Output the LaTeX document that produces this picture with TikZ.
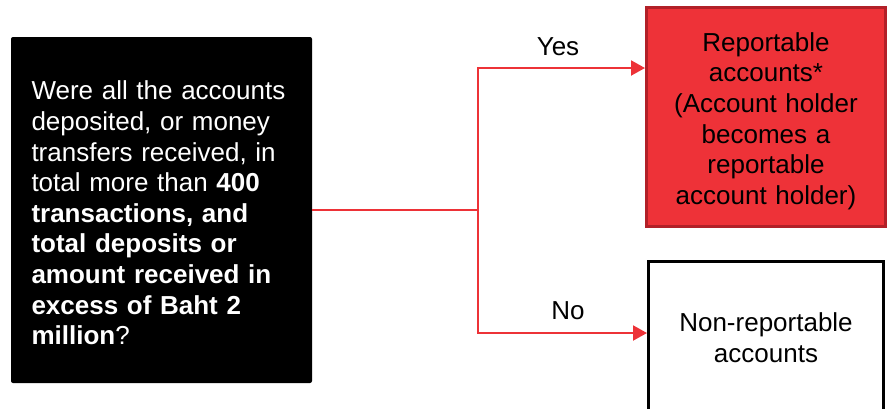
\documentclass[tikz,border=0pt]{standalone}
\usepackage{fontspec}
\setmainfont{Liberation Sans}
\usetikzlibrary{arrows.meta}
\definecolor{redfill}{RGB}{238,50,56}
\definecolor{redline}{RGB}{178,32,40}
\definecolor{conn}{RGB}{237,50,55}
\tikzset{
  qbox/.style={fill=black, rounded corners=2pt, text=white, inner sep=0pt, align=left},
  yesbox/.style={draw=redline, line width=3pt, fill=redfill, inner sep=0pt, align=center},
  nobox/.style={draw=black, line width=3pt, fill=white, inner sep=0pt, align=center},
  lbl/.style={anchor=base, inner sep=0pt},
  conline/.style={draw=conn, line width=2pt},
  arr/.style={conline, -{Triangle[length=14pt,width=15pt]}}
}
\begin{document}
\begin{tikzpicture}[x=1pt,y=-1pt, font=\fontsize{26}{30.6}\selectfont]
\useasboundingbox (0,0) rectangle (888,408);
\clip (0,0) rectangle (888,408);
\node[qbox, minimum width=301pt, minimum height=346pt, text width=260pt] (q) at (161.5,210)
  {\rule{0pt}{25pt}Were all the accounts\\deposited, or money\\transfers received, in\\total more than \textbf{400}\\\textbf{transactions, and}\\\textbf{total deposits or}\\\textbf{amount received in}\\\textbf{excess of Baht 2}\\\textbf{million}?};
\node[yesbox, minimum width=239pt, minimum height=219pt, text width=232pt] (rep) at (766,117)
  {\rule{0pt}{27pt}Reportable\\accounts*\\(Account holder\\becomes a\\reportable\\account holder)};
\node[nobox, minimum width=235pt, minimum height=152pt, text width=230pt] (non) at (766,337.5)
  {Non-reportable\\accounts};
\coordinate (j) at (478,210);
\coordinate (yy) at (0,68);
\coordinate (ny) at (0,333);
\draw[conline] (q.east) -- (j);
\draw[arr] (j) |- (rep.west |- yy);
\draw[arr] (j) |- (non.west |- ny);
\node[lbl] (yes) at (558,55) {Yes};
\node[lbl] (no) at (568,319) {No};
\end{tikzpicture}
\end{document}
